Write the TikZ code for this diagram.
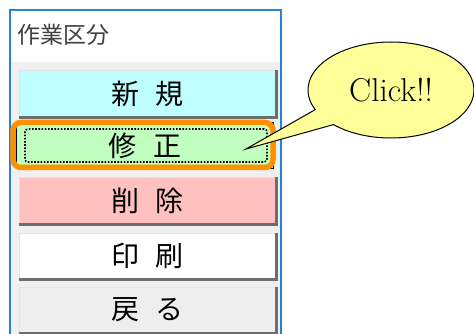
\documentclass[tikz,border=0pt]{standalone}
\usepackage{fontspec}
\newfontfamily\jp{Noto Sans CJK JP}
\usetikzlibrary{shapes.callouts}
\definecolor{winblue}{RGB}{40,130,215}
\definecolor{panel}{RGB}{240,240,240}
\definecolor{edgedark}{RGB}{110,110,110}
\definecolor{edgelight}{RGB}{227,227,227}
\definecolor{facecyan}{RGB}{192,255,255}
\definecolor{facegreen}{RGB}{192,255,192}
\definecolor{facepink}{RGB}{255,192,192}
\definecolor{facegray}{RGB}{238,238,238}
\definecolor{focusorange}{RGB}{255,145,0}
\definecolor{bubble}{RGB}{255,255,153}

\tikzset{
  btn/.style={minimum width=257pt,minimum height=46pt,inner sep=0pt,
    draw=edgelight,line width=1pt,font=\jp\fontsize{28}{32}\selectfont},
  bevel/.style={edgedark,line width=2.5pt},
}

\begin{document}
\begin{tikzpicture}[x=1pt,y=-1pt]
        \useasboundingbox (0,0) rectangle (474,334);
        % window
        \fill[white] (10,10) rectangle (281,334);
        \fill[panel] (11,62) rectangle (280,334);
        \draw[winblue,line width=1.2pt] (10,334) -- (10,10) -- (281,10) -- (281,334);
        \node[anchor=west,inner sep=0pt,text=black!75,font=\jp\fontsize{23}{26}\selectfont] (title) at (17,35) {作業区分};

        % buttons
        \node[btn,fill=facecyan] (new) at (147.5,94) {新\hspace{0.6em}規};
        \node[btn,fill=facegreen,draw=black] (fix) at (145,146) {修\hspace{0.6em}正};
        \node[btn,fill=facepink] (del) at (147.5,201) {削\hspace{0.6em}除};
        \node[btn,fill=white] (print) at (147.5,256) {印\hspace{0.6em}刷};
        \node[btn,fill=facegray] (back) at (147.5,310) {戻\hspace{0.6em}る};

        \draw[bevel] (new.north east) -- (new.south east) -- (new.south west);
        \draw[bevel] (del.north east) -- (del.south east) -- (del.south west);
        \draw[bevel] (print.north east) -- (print.south east) -- (print.south west);
        \draw[bevel] (back.north east) -- (back.south east) -- (back.south west);

        % focus
        \node[draw,line width=1.6pt,dash pattern=on 1.6pt off 1.6pt,rounded corners=3pt,minimum width=242pt,minimum height=33pt] (fixfocus) at (146,145.5) {};
        \node[draw=focusorange,line width=5.5pt,rounded corners=8pt,minimum width=260pt,minimum height=45pt] (fixmark) at (143,145) {};

        % callout
        \coordinate (tip) at (246,149);
        \node[ellipse callout,draw,line width=1pt,fill=bubble,minimum width=166pt,minimum height=96pt,inner sep=0pt,
          callout absolute pointer={(tip)},callout pointer arc=22,font=\fontsize{33}{36}\selectfont] (click) at (391,90) {Click!!};
    \end{tikzpicture}
\end{document}
